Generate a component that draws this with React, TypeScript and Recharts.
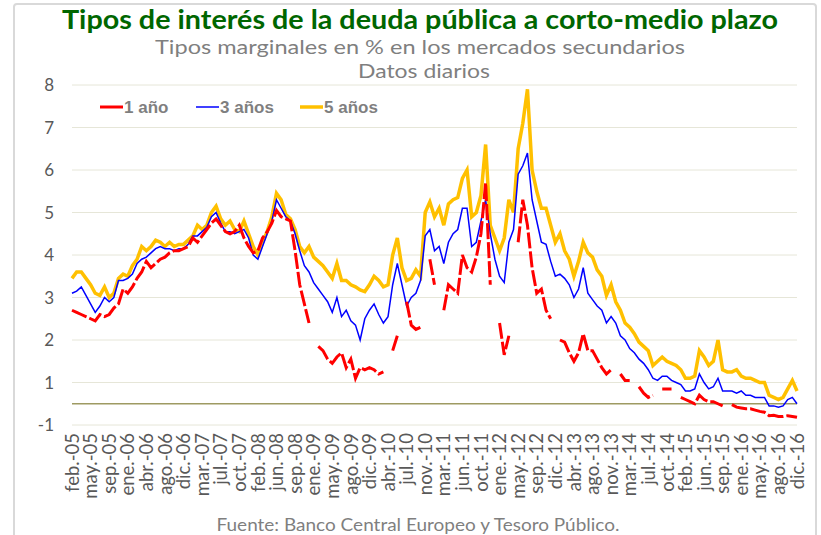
import React from 'react';
import { LineChart, Line, XAxis, YAxis, CartesianGrid, ReferenceLine } from 'recharts';

// ---------- DATA ----------
const xLabels = [
  'feb.-05', 'may.-05', 'sep.-05', 'ene.-06', 'abr.-06', 'ago.-06', 'dic.-06', 'mar.-07', 'jul.-07', 'oct.-07',
  'feb.-08', 'jun.-08', 'sep.-08', 'ene.-09', 'may.-09', 'ago.-09', 'dic.-09', 'abr.-10', 'jul.-10', 'nov.-10',
  'mar.-11', 'jun.-11', 'oct.-11', 'ene.-12', 'may.-12', 'sep.-12', 'dic.-12', 'abr.-13', 'ago.-13', 'nov.-13',
  'mar.-14', 'jul.-14', 'oct.-14', 'feb.-15', 'jun.-15', 'sep.-15', 'ene.-16', 'may.-16', 'ago.-16', 'dic.-16',
];
const pointsPerLabel = 4;

// 1 año
const y1: (number | null)[] = [
  2.7, 2.65, 2.6, 2.55, 2.5, 2.45, 2.6, 2.55, 2.6, 2.75,
  2.85, 3.2, 3.1, 3.25, 3.45, 3.6, 3.85, 3.7, 3.8, 3.9,
  3.95, 4.05, 4.1, 4.1, 4.15, 4.2, 4.4, 4.3, 4.45, 4.6,
  4.75, 4.85, 4.7, 4.55, 4.5, 4.55, 4.7, 4.4, 4.2, 4.05,
  4.1, 4.4, 4.55, 4.75, 5.05, 4.9, 4.85, 4.8, 4.1, 3.3,
  2.85, 2.4, null, 1.85, 1.75, 1.55, 1.45, 1.6, 1.7, 1.35,
  1.55, 1.1, 1.35, 1.3, 1.35, 1.3, 1.2, 1.25, null, 1.75,
  2.1, null, 2.9, 2.35, 2.25, 2.3, null, 3.9, 3.3, null,
  2.7, 3.3, 3.2, 3.1, 4.0, 3.7, 3.6, 3.95, 4.5, 5.7,
  3.3, null, 2.4, 1.65, 2.1, null, 4.3, 5.3, 4.7, 3.7,
  3.1, 3.2, 2.7, 2.5, null, 2.0, 1.95, 1.7, 1.5, 1.7,
  2.15, 1.75, 1.75, 1.55, 1.35, 1.2, 1.3, null, 1.2, 1.05,
  1.05, null, 0.9, 0.75, 0.65, 0.7, null, 0.85, 0.85, 0.85,
  null, 0.65, 0.6, 0.55, 0.5, 0.7, 0.6, 0.55, 0.55, 0.5,
  0.45, null, 0.48, 0.42, 0.4, 0.38, 0.38, 0.35, 0.32, 0.3,
  0.22, 0.23, 0.2, 0.2, 0.22, 0.2, 0.18,
];

// 3 años
const y3: number[] = [
  3.1, 3.15, 3.25, 3.05, 2.85, 2.65, 2.8, 3.0, 2.9, 3.0,
  3.4, 3.4, 3.45, 3.55, 3.8, 3.9, 3.95, 4.05, 4.15, 4.2,
  4.15, 4.15, 4.1, 4.15, 4.15, 4.25, 4.45, 4.45, 4.55, 4.65,
  4.9, 5.0, 4.75, 4.55, 4.55, 4.5, 4.55, 4.6, 4.4, 4.0,
  3.9, 4.2, 4.5, 4.8, 5.3, 5.1, 4.9, 4.8, 4.5, 4.1,
  3.75, 3.6, 3.35, 3.2, 3.05, 2.9, 2.65, 3.0, 2.55, 2.7,
  2.45, 2.35, 2.0, 2.5, 2.7, 2.85, 2.6, 2.4, 2.55, 3.3,
  3.8, 3.3, 2.8, 3.0, 3.1, 3.4, 4.45, 4.6, 4.1, 4.2,
  3.8, 4.3, 4.5, 4.6, 5.1, 5.1, 4.2, 4.3, 4.8, 5.3,
  4.5, 3.9, 3.5, 3.35, 4.3, 4.6, 5.9, 6.1, 6.4, 5.3,
  4.8, 4.3, 4.25, 3.85, 3.5, 3.55, 3.45, 3.3, 3.0, 3.2,
  3.7, 3.1, 2.95, 2.8, 2.7, 2.4, 2.55, 2.4, 2.1, 2.0,
  1.8, 1.7, 1.55, 1.45, 1.3, 1.1, 1.05, 1.15, 1.15, 1.05,
  1.0, 0.95, 0.8, 0.8, 0.85, 1.2, 1.0, 0.85, 0.9, 1.1,
  0.8, 0.8, 0.8, 0.75, 0.8, 0.7, 0.7, 0.65, 0.65, 0.65,
  0.45, 0.45, 0.42, 0.45, 0.6, 0.65, 0.5,
];

// 5 años
const y5: number[] = [
  3.45, 3.6, 3.6, 3.45, 3.3, 3.1, 3.05, 3.25, 3.0, 3.1,
  3.45, 3.55, 3.5, 3.75, 3.9, 4.2, 4.1, 4.2, 4.35, 4.3,
  4.2, 4.3, 4.2, 4.25, 4.25, 4.35, 4.45, 4.7, 4.6, 4.7,
  5.0, 5.15, 4.85, 4.7, 4.8, 4.6, 4.55, 4.8, 4.5, 4.2,
  4.0, 4.3, 4.55, 4.9, 5.45, 5.3, 4.95, 4.85, 4.6, 4.2,
  4.05, 4.2, 3.95, 3.85, 3.75, 3.6, 3.45, 3.8, 3.4, 3.4,
  3.3, 3.25, 3.18, 3.14, 3.3, 3.5, 3.4, 3.25, 3.3, 4.0,
  4.4, 3.7, 3.4, 3.45, 3.65, 3.5, 5.0, 5.25, 4.9, 5.1,
  4.7, 5.2, 5.3, 5.35, 5.8, 6.0, 4.9, 5.0, 5.4, 6.6,
  4.7, 4.4, 4.1, 4.4, 5.3, 5.0, 6.5, 7.1, 7.9, 6.0,
  5.5, 5.1, 5.1, 4.7, 4.3, 4.5, 4.1, 3.9, 3.5, 3.85,
  4.3, 4.05, 3.95, 3.65, 3.5, 3.05, 3.3, 2.9, 2.7, 2.4,
  2.3, 2.15, 1.95, 1.85, 1.75, 1.4, 1.5, 1.6, 1.5, 1.45,
  1.4, 1.3, 1.1, 1.1, 1.15, 1.75, 1.6, 1.4, 1.5, 2.0,
  1.3, 1.25, 1.25, 1.3, 1.15, 1.1, 1.1, 1.05, 1.0, 1.0,
  0.7, 0.65, 0.6, 0.65, 0.85, 1.05, 0.8,
];

const yTicks = [0, 1, 2, 3, 4, 5, 6, 7, 8];
const yTickLabels = ['-1', '1', '2', '3', '4', '5', '6', '7', '8'];
const baseLineValue = 0.5;

const seriesMeta = [
  { key: 'a5', name: '5 años', color: '#ffc000', width: 3.5 },
  { key: 'a3', name: '3 años', color: '#0000ff', width: 1.5 },
  { key: 'a1', name: '1 año', color: '#ff0000', width: 3 },
];
const legendOrder = ['a1', 'a3', 'a5'];

const titleText = 'Tipos de interés de la deuda pública a corto-medio plazo';
const subtitle1 = 'Tipos marginales en % en los mercados secundarios';
const subtitle2 = 'Datos diarios';
const sourceText = 'Fuente: Banco Central Europeo y Tesoro Público.';

// ---------- BUILD ----------
const data = y5.map((v, i) => ({ i, a1: y1[i], a3: y3[i], a5: v }));
const lastIndex = y5.length - 1;
const xTicks = xLabels.map((_, k) => k * pointsPerLabel);

const XTick = (props: any) => {
  const { x, y, payload } = props;
  const label = xLabels[Math.round(payload.value / pointsPerLabel)];
  return (
    <g transform={`translate(${x},${y})`}>
      <text
        transform="rotate(-90)"
        x={0}
        y={0}
        dy="0.36em"
        textAnchor="end"
        fill="#595959"
        fontSize={18.5}
        fontFamily="Lato, 'Open Sans', sans-serif"
      >
        {label}
      </text>
    </g>
  );
};

const legendX = [100, 196, 300];

export default function App() {
  return (
    <div style={{ position: 'absolute', left: 0, top: 0, width: 821, height: 535, background: '#ffffff', overflow: 'hidden' }}>
      <div
        style={{
          position: 'absolute', left: 13, top: 3, width: 804, height: 560,
          border: '2px solid #d9d9d9', borderRadius: 4, boxSizing: 'border-box',
        }}
      />
      <div style={{ position: 'absolute', left: 0, top: 0 }}>
        <LineChart width={821} height={535} data={data} margin={{ top: 85, right: 24, bottom: 10, left: 0 }}>
          <CartesianGrid horizontal vertical={false} stroke="#e6e6d8" strokeWidth={1} />
          <XAxis
            dataKey="i"
            type="number"
            domain={[0, lastIndex]}
            ticks={xTicks}
            interval={0}
            axisLine={false}
            tickLine={false}
            tickSize={0}
            tickMargin={8}
            height={100}
            tick={<XTick />}
          />
          <YAxis
            type="number"
            domain={[0, 8]}
            ticks={yTicks}
            interval={0}
            width={72}
            axisLine={false}
            tickLine={false}
            tickSize={0}
            tickMargin={18}
            tickFormatter={(v: number) => yTickLabels[yTicks.indexOf(v)]}
            tick={{ fill: '#595959', fontSize: 17, fontFamily: "Lato, 'Open Sans', sans-serif" }}
          />
          <ReferenceLine y={baseLineValue} stroke="#9e9a62" strokeWidth={1.5} />
          {seriesMeta.map((s) => (
            <Line
              key={s.key}
              type="linear"
              dataKey={s.key}
              name={s.name}
              stroke={s.color}
              strokeWidth={s.width}
              strokeDasharray={s.key === 'a1' ? '16 3' : undefined}
              dot={false}
              activeDot={false}
              connectNulls={false}
              isAnimationActive={false}
            />
          ))}
        </LineChart>
      </div>
      <svg width={821} height={535} style={{ position: 'absolute', left: 0, top: 0, pointerEvents: 'none' }}>
        <text x={420} y={29} textAnchor="middle" fill="#006600" fontWeight="bold" fontSize={26}
          fontFamily="Lato, 'Open Sans', sans-serif" textLength={716} lengthAdjust="spacingAndGlyphs">
          {titleText}
        </text>
        <text x={420} y={54} textAnchor="middle" fill="#7f7f7f" fontSize={19.5}
          fontFamily="Lato, 'Open Sans', sans-serif" textLength={530} lengthAdjust="spacingAndGlyphs">
          {subtitle1}
        </text>
        <text x={424} y={78} textAnchor="middle" fill="#7f7f7f" fontSize={19.5}
          fontFamily="Lato, 'Open Sans', sans-serif" textLength={132} lengthAdjust="spacingAndGlyphs">
          {subtitle2}
        </text>
        {legendOrder.map((k, idx) => {
          const s = seriesMeta.find((m) => m.key === k)!;
          const x0 = legendX[idx];
          return (
            <g key={k}>
              <line x1={x0} x2={x0 + 23} y1={107} y2={107} stroke={s.color} strokeWidth={s.width} />
              <text x={x0 + 24} y={113} fill="#7f7f7f" fontWeight="bold" fontSize={17}
                fontFamily="'Liberation Sans', Arial, sans-serif">
                {s.name}
              </text>
            </g>
          );
        })}
        <text x={418} y={531} textAnchor="middle" fill="#7f7f7f" fontSize={17}
          fontFamily="Lato, 'Open Sans', sans-serif" textLength={403} lengthAdjust="spacingAndGlyphs">
          {sourceText}
        </text>
      </svg>
    </div>
  );
}
